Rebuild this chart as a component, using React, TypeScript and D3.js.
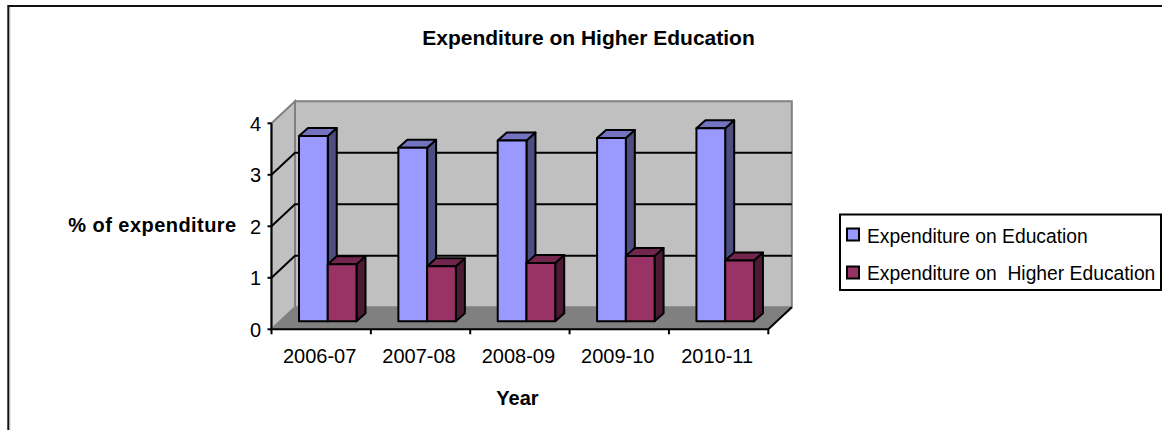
import * as d3 from "d3";

const years = ["2006-07", "2007-08", "2008-09", "2009-10", "2010-11"];
const seriesNames = ["Expenditure on Education", "Expenditure on  Higher Education"];
const education = [3.6, 3.37, 3.51, 3.56, 3.75];
const higherEducation = [1.11, 1.07, 1.13, 1.27, 1.18];
const yTicks = [0, 1, 2, 3, 4];

// front colour, side colour, top colour per series
const FRONT = ["#9999ff", "#993366"];
const SIDE = ["#4d4d80", "#4d1a33"];
const TOP = ["#7373bf", "#73264d"];

const FONT = "'Liberation Sans', Arial, sans-serif";
const WIDTH = 1162;
const HEIGHT = 430;

// 3d box: wall offset from the front plane, and bar depth
const WALL_DX = 23.5;
const WALL_DY = -22;
const BAR_DX = 9;
const BAR_DY = -8;

const x = d3.scaleBand<string>().domain(years).range([271.5, 768.3]);
const y = d3.scaleLinear().domain([0, 4]).range([329.3, 123.3]);
const seriesX = d3.scaleBand<number>().domain([0, 1]).range([27.5, 85]);

const poly = (pts: [number, number][]) => d3.line()(pts) + "Z";

function Bar({ year, s, value }: { year: string; s: number; value: number }) {
  const x0 = x(year)! + seriesX(s)!;
  const x1 = x0 + seriesX.bandwidth();
  const yTop = y(value) + BAR_DY;
  const yBase = y(0) + BAR_DY;
  return (
    <g stroke="#000" strokeWidth={2} strokeLinejoin="round">
      <path
        d={poly([[x1, yBase], [x1 + BAR_DX, yBase + BAR_DY], [x1 + BAR_DX, yTop + BAR_DY], [x1, yTop]])}
        fill={SIDE[s]}
      />
      <path
        d={poly([[x0, yTop], [x0 + BAR_DX, yTop + BAR_DY], [x1 + BAR_DX, yTop + BAR_DY], [x1, yTop]])}
        fill={TOP[s]}
      />
      <rect x={x0} y={yTop} width={x1 - x0} height={yBase - yTop} fill={FRONT[s]} />
    </g>
  );
}

export default function App() {
  const [xMin, xMax] = x.range();
  const y0 = y(0);
  const y4 = y(4);

  return (
    <svg
      width={WIDTH}
      height={HEIGHT}
      style={{ position: "absolute", left: 0, top: 0, background: "#fff" }}
      fontFamily={FONT}
    >
      {/* chart frame, cut off at the right and bottom */}
      <path d={`M8.3,${HEIGHT}V6H${WIDTH}`} fill="none" stroke="#111" strokeWidth={2} />
      <line x1={9.8} x2={9.8} y1={7} y2={HEIGHT} stroke="#aaa" strokeWidth={1} />

      <text x={588.5} y={45} textAnchor="middle" fontSize={21} fontWeight="bold" fill="#000">
        Expenditure on Higher Education
      </text>

      {/* walls and floor */}
      <path
        d={poly([[xMin + WALL_DX, y4 + WALL_DY], [xMax + WALL_DX, y4 + WALL_DY], [xMax + WALL_DX, y0 + WALL_DY], [xMin + WALL_DX, y0 + WALL_DY]])}
        fill="#c0c0c0"
        stroke="#808080"
        strokeWidth={2}
      />
      <path
        d={poly([[xMin, y4], [xMin + WALL_DX, y4 + WALL_DY], [xMin + WALL_DX, y0 + WALL_DY], [xMin, y0]])}
        fill="#c0c0c0"
        stroke="#808080"
        strokeWidth={2}
      />
      <path
        d={poly([[xMin, y0], [xMin + WALL_DX, y0 + WALL_DY], [xMax + WALL_DX, y0 + WALL_DY], [xMax, y0]])}
        fill="#808080"
      />

      {/* gridlines on the back and left walls */}
      {yTicks.slice(1, 4).map((t) => (
        <path
          key={t}
          d={`M${xMin},${y(t)}L${xMin + WALL_DX},${y(t) + WALL_DY}H${xMax + WALL_DX}`}
          fill="none"
          stroke="#000"
          strokeWidth={2}
        />
      ))}

      {/* axes */}
      <path
        d={`M${xMin},${y4}V${y0}H${xMax}L${xMax + WALL_DX},${y0 + WALL_DY}`}
        fill="none"
        stroke="#000"
        strokeWidth={2}
      />
      {yTicks.map((t) => (
        <g key={t}>
          <line x1={xMin - 4} x2={xMin} y1={y(t)} y2={y(t)} stroke="#000" strokeWidth={2} />
          <text x={261} y={y(t) + 7.4} textAnchor="end" fontSize={20} fill="#000">
            {t}
          </text>
        </g>
      ))}
      {[...years.map((d) => x(d)!), xMax].map((px) => (
        <line key={px} x1={px} x2={px} y1={y0} y2={y0 + 5} stroke="#000" strokeWidth={2} />
      ))}
      {years.map((d) => (
        <text key={d} x={x(d)! + x.bandwidth() / 2 - 1.5} y={362.5} textAnchor="middle" fontSize={20} fill="#000">
          {d}
        </text>
      ))}

      {/* bars */}
      {years.map((d, i) => (
        <g key={d}>
          <Bar year={d} s={0} value={education[i]} />
          <Bar year={d} s={1} value={higherEducation[i]} />
        </g>
      ))}

      <text x={152.5} y={232} textAnchor="middle" fontSize={20} letterSpacing={0.45} fontWeight="bold" fill="#000">
        % of expenditure
      </text>
      <text x={517.5} y={405} textAnchor="middle" fontSize={20} fontWeight="bold" fill="#000">
        Year
      </text>

      {/* legend */}
      <rect x={840} y={214.5} width={321} height={75.5} fill="#fff" stroke="#000" strokeWidth={2} />
      {seriesNames.map((name, i) => (
        <g key={name}>
          <rect x={847} y={228.5 + i * 38} width={12} height={12} fill={FRONT[i]} stroke="#000" strokeWidth={2} />
          <text x={867} y={242.5 + i * 37.5} fontSize={19.3} fill="#000" style={{ whiteSpace: "pre" }}>
            {name}
          </text>
        </g>
      ))}
    </svg>
  );
}
